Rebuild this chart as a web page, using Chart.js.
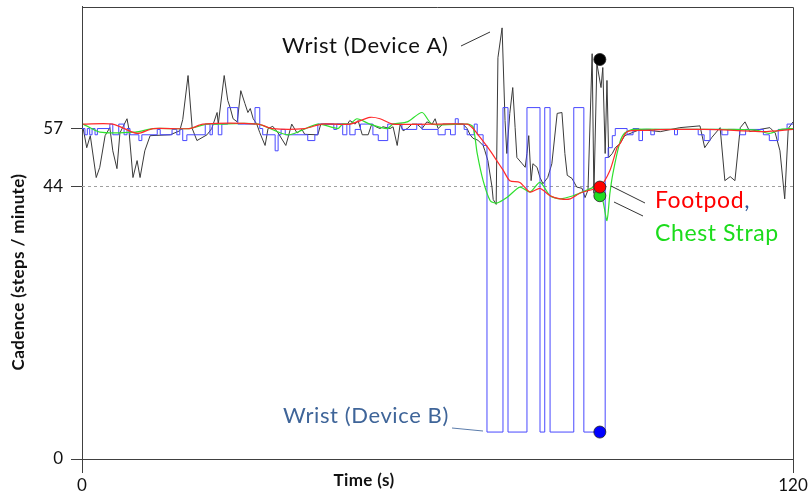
<!DOCTYPE html>
<html>
<head>
<meta charset="utf-8">
<script src="https://cdn.jsdelivr.net/npm/chart.js@4.4.0/dist/chart.umd.min.js"></script>
<style>
  html, body { margin: 0; padding: 0; background: #fff; }
  #wrap { width: 811px; height: 495px; }
</style>
</head>
<body>
<div id="wrap"><canvas id="cadence" width="811" height="495"></canvas></div>
<script>
// Wrist (Device A) – time (s) and cadence
const timeA = [0.2, 0.8, 1.4, 2.4, 3.0, 3.9, 4.7, 5.2, 5.9, 6.4, 7.6, 7.9, 8.6, 9.3, 9.8, 10.6, 11.5, 14.9, 16.5, 17.0,
  17.9, 18.6, 19.4, 21.1, 21.9, 22.8, 23.0, 24.0, 24.6, 25.0, 25.5, 26.2, 26.8, 27.5, 28.0, 28.4, 28.9, 29.5, 30.0, 30.9,
  31.4, 32.2, 33.1, 34.4, 35.4, 36.3, 37.1, 37.6, 39.8, 40.3, 44.8, 45.2, 46.1, 46.6, 47.3, 48.3, 48.9, 49.6, 50.3, 50.8,
  52.0, 52.5, 53.2, 53.7, 54.2, 54.9, 55.7, 56.5, 57.4, 58.2, 59.1, 59.6, 60.1, 60.9, 64.3, 65.0, 65.5, 66.0, 66.8, 67.7,
  68.0, 68.5, 69.2, 69.4, 69.9, 70.2, 70.9, 71.4, 71.7, 72.2, 72.7, 73.1, 73.4, 74.3, 74.8, 75.1, 75.4, 75.8, 76.1, 76.8,
  77.3, 77.8, 78.6, 79.3, 80.2, 81.0, 81.5, 81.9, 82.7, 83.5, 84.4, 84.9, 85.4, 86.1, 86.4, 86.9, 87.6, 87.9, 88.3, 88.6,
  88.9, 89.5, 90.0, 90.8, 91.6, 94.2, 97.6, 100.9, 104.3, 105.1, 106.3, 107.7, 108.5, 109.4, 110.2, 111.1, 111.9, 112.7, 114.4, 116.1,
  117.0, 117.8, 118.6, 119.2, 120.0];
const wristA = [57, 52.7, 55.4, 46, 48.3, 55.4, 57.2, 52, 48, 56, 59.2, 57, 46, 49.8, 46, 52, 55.4, 55.6, 56.5, 59,
  68.9, 57, 54.3, 55.6, 57, 60.6, 58, 68.9, 63.3, 61.7, 59.2, 58.5, 65.5, 62.6, 60.6, 61.5, 59.2, 58, 56.1, 53.2,
  57, 57.5, 56, 53.2, 58, 56, 56.8, 55.7, 55.6, 58, 58, 58.8, 58, 58.8, 55.6, 55.6, 58, 57.4, 57, 57.4,
  57, 57.4, 53.2, 58, 56.5, 57, 58, 58, 57, 58.5, 58, 59.2, 57, 58, 58, 57, 55.6, 54.8, 54.4, 53.2,
  52, 49.8, 43.9, 41.9, 41.1, 72.9, 79.6, 58.8, 51.4, 60.4, 66.2, 57.2, 50.5, 49.1, 48.3, 51.4, 55.4, 45.3, 49.1, 48.3,
  46, 44.6, 46, 49.1, 60.4, 60.6, 51.4, 46.5, 45.8, 43.9, 43.7, 42.2, 43.4, 73.8, 42.9, 71.6, 66.2, 70.7, 51.4, 67.8,
  50.5, 51.4, 52.7, 53.6, 55.4, 56.8, 56.3, 57.2, 57.6, 52.7, 55, 57.2, 45.3, 46.2, 45.3, 57.2, 58.5, 56.3, 56.8, 57.2,
  56, 52, 42, 57, 58.5];

// Wrist (Device B) – step starts (s) and cadence
const timeB = [0, 0.5, 0.9, 1.3, 1.7, 2.2, 2.6, 4.7, 5.2, 6.2, 7.1, 7.6, 8.1, 9.6, 10.1, 12.7, 13.2, 15.2, 16.0, 16.5,
  17.0, 17.7, 20.8, 21.6, 22.0, 23.0, 23.6, 24.6, 26.3, 29.2, 30.0, 30.5, 32.6, 33.1, 33.6, 34.3, 38.1, 39.3, 39.8, 42.5,
  43.0, 44.0, 44.7, 45.2, 46.1, 47.0, 49.1, 50.0, 51.6, 54.0, 56.5, 57.4, 60.1, 61.3, 62.2, 63.0, 63.5, 64.5, 65.0, 66.2,
  66.7, 67.7, 68.35, 71.05, 71.9, 75.1, 77.3, 78.1, 79.0, 83.0, 84.7, 88.3, 88.8, 89.5, 90.0, 92.0, 93.0, 94.0, 94.6, 96.0,
  96.6, 100.0, 100.5, 104.0, 105.0, 106.0, 108.0, 109.0, 111.0, 112.0, 115.0, 116.0, 117.5, 119.0, 120.0];
const wristB = [57, 55.6, 57, 55.6, 57, 55.6, 57, 58, 55.6, 58, 55.6, 57, 55.6, 54.3, 55.6, 56.8, 55.6, 56.8, 55.6, 56.8,
  54.3, 55.6, 58, 55.6, 58, 55.6, 58, 61.7, 58, 61.7, 57, 55.6, 52, 55.6, 56.8, 55.6, 54.3, 55.6, 58, 56.8,
  58, 55.6, 58, 55.6, 56.8, 58, 55.6, 54.3, 58, 56.8, 58, 56.8, 55.6, 56.8, 55.6, 59.2, 58, 56.8, 55.6, 58,
  55.6, 53.2, 4.35, 61.7, 4.35, 61.7, 4.35, 61.7, 4.35, 61.7, 4.35, 50.5, 52.7, 55.4, 57, 55.6, 57, 54.3, 56.8, 55.6,
  56.8, 55.6, 56.8, 55.6, 54.3, 56.8, 55.6, 56.8, 55.6, 56.8, 55.6, 54.3, 56.8, 58, 58];

// Footpod
const timeFoot = [0.2, 5.2, 9.3, 12.0, 18.2, 20.4, 29.7, 32.1, 37.6, 40.5, 45.2, 48.6, 50.3, 52.5, 65.0, 66.0, 67.2, 68.9, 70.0, 71.1,
  72.2, 73.9, 75.6, 77.3, 79.0, 80.7, 82.4, 84.0, 85.7, 87.4, 89.1, 90.3, 90.8, 92.0, 95.0, 100.0, 105.0, 110.0, 115.0, 120.0];
const footpod = [58, 58, 55.9, 57, 57, 58, 58, 57, 57, 58, 58, 59.5, 59.2, 58, 58, 57, 55, 52, 49.8, 47.6,
  45.3, 44.9, 43.1, 43.7, 42.5, 42, 42, 42.9, 43.4, 43.9, 47.6, 52.7, 53.6, 56.3, 56.6, 56.8, 56.8, 56.6, 56.3, 56.8];

// Chest strap
const timeChest = [0.2, 3.0, 9.0, 12.0, 18.0, 21.0, 22.4, 29.7, 34.8, 39.8, 43.2, 44.0, 45.2, 46.4, 48.6, 51.5, 52.5, 54.9, 57.4, 59.1,
  65.1, 66.0, 66.7, 67.7, 68.9, 70.0, 71.7, 73.9, 75.6, 77.3, 79.0, 80.7, 82.9, 85.2, 86.9, 87.9, 88.6, 89.1, 89.6, 90.8,
  91.6, 93.0, 100.0, 110.0, 114.0, 116.0, 118.0, 120.0];
const chestStrap = [58, 56.2, 56.2, 57, 57, 58, 58, 58, 55.6, 58, 57, 58, 58, 59.2, 58, 57, 58, 58.5, 60.6, 58,
  58, 57.4, 51.4, 45.3, 41.7, 41.3, 42.2, 43.9, 43.1, 44.9, 42.5, 42, 42.5, 43.4, 43.9, 41.7, 38.5, 42.9, 46.9, 54,
  56, 56.8, 56.8, 56.8, 56.6, 55.9, 56.8, 57];

// highlighted instant
const markTime = 87.4;
const markA = 72.5, markFoot = 43.9, markChest = 42.5, markB = 4.35;

const yTicks = [0, 44, 57];
const xTicks = [0, 120];
const refLine = 44;

// axis squeezed above 44 like the original figure
const CUT = 44, SQUEEZE = 0.719;
const warp = v => v <= CUT ? v : CUT + (v - CUT) * SQUEEZE;
const unwarp = w => w <= CUT ? w : CUT + (w - CUT) / SQUEEZE;

class CadenceScale extends Chart.LinearScale {
  getPixelForValue(v) { return super.getPixelForValue(warp(v)); }
  getValueForPixel(p) { return unwarp(super.getValueForPixel(p)); }
}
CadenceScale.id = 'cadence';
CadenceScale.defaults = Chart.LinearScale.defaults;
Chart.register(CadenceScale);

const pts = (xs, ys) => xs.map((t, i) => ({ x: t, y: ys[i] }));
const dot = (v, color) => ({
  data: [{ x: markTime, y: v }],
  showLine: false,
  pointRadius: 6,
  pointBackgroundColor: color,
  pointBorderColor: '#222',
  pointBorderWidth: 0.8,
  order: 0
});

const FONT = 'Lato, "Open Sans", sans-serif';

const decor = {
  id: 'decor',
  beforeDatasetsDraw(chart) {
    const { ctx, chartArea: a, scales: { y } } = chart;
    const py = Math.round(y.getPixelForValue(refLine)) + 0.5;
    ctx.save();
    ctx.strokeStyle = '#a0a0a0';
    ctx.lineWidth = 1;
    ctx.setLineDash([3, 3]);
    ctx.beginPath();
    ctx.moveTo(a.left, py);
    ctx.lineTo(a.right, py);
    ctx.stroke();
    ctx.restore();
  },
  afterDraw(chart) {
    const { ctx, chartArea: a } = chart;
    ctx.save();
    // frame top / right
    ctx.strokeStyle = '#404040';
    ctx.lineWidth = 1;
    ctx.beginPath();
    ctx.moveTo(a.left, Math.round(a.top) + 0.5);
    ctx.lineTo(Math.round(a.right) + 0.5, Math.round(a.top) + 0.5);
    ctx.lineTo(Math.round(a.right) + 0.5, a.bottom);
    ctx.stroke();

    // axis titles
    ctx.fillStyle = '#111';
    ctx.font = 'bold 17px ' + FONT;
    ctx.letterSpacing = '0.4px';
    ctx.textAlign = 'center';
    ctx.textBaseline = 'middle';
    ctx.fillText('Time (s)', 364, 481);
    ctx.save();
    ctx.translate(19, 272);
    ctx.rotate(-Math.PI / 2);
    ctx.fillText('Cadence (steps / minute)', 0, 0);
    ctx.restore();

    // labels
    ctx.textAlign = 'left';
    ctx.letterSpacing = '0.6px';
    ctx.font = '22px ' + FONT;
    ctx.fillStyle = '#111';
    ctx.fillText('Wrist (Device A)', 282, 46);
    ctx.fillStyle = '#3f6599';
    ctx.fillText('Wrist (Device B)', 283, 416);
    ctx.font = '23px ' + FONT;
    ctx.fillStyle = '#ff0000';
    ctx.fillText('Footpod', 655, 201);
    const w = ctx.measureText('Footpod').width;
    ctx.fillStyle = '#2f5597';
    ctx.fillText(',', 655 + w, 201);
    ctx.fillStyle = '#1bdc1b';
    ctx.fillText('Chest Strap', 655, 234);

    // leader lines
    ctx.lineWidth = 1;
    ctx.strokeStyle = '#333';
    ctx.beginPath();
    ctx.moveTo(461, 46); ctx.lineTo(490, 32);
    ctx.moveTo(611, 186); ctx.lineTo(645, 203);
    ctx.moveTo(614, 202); ctx.lineTo(643, 216);
    ctx.stroke();
    ctx.strokeStyle = '#5b7cab';
    ctx.beginPath();
    ctx.moveTo(452, 428); ctx.lineTo(483, 431);
    ctx.stroke();
    ctx.restore();
  }
};

new Chart(document.getElementById('cadence'), {
  type: 'line',
  data: {
    datasets: [
      dot(markA, '#000000'),
      dot(markFoot, '#ff0000'),
      dot(markChest, '#22dd22'),
      dot(markB, '#0000ff'),
      {
        label: 'Footpod',
        data: pts(timeFoot, footpod),
        borderColor: '#ff2a2a',
        borderWidth: 1.2,
        pointRadius: 0,
        tension: 0.25,
        order: 1
      },
      {
        label: 'Chest Strap',
        data: pts(timeChest, chestStrap),
        borderColor: '#2ee02e',
        borderWidth: 1.2,
        pointRadius: 0,
        tension: 0.25,
        order: 2
      },
      {
        label: 'Wrist (Device B)',
        data: pts(timeB, wristB),
        borderColor: '#4848ff',
        borderWidth: 1,
        pointRadius: 0,
        stepped: true,
        order: 3
      },
      {
        label: 'Wrist (Device A)',
        data: pts(timeA, wristA),
        borderColor: '#3a3a3a',
        borderWidth: 1,
        pointRadius: 0,
        tension: 0,
        order: 4
      }
    ]
  },
  options: {
    responsive: false,
    animation: false,
    layout: { padding: { top: 6, right: 18, left: 0, bottom: 0 } },
    plugins: {
      legend: { display: false },
      tooltip: { enabled: false }
    },
    scales: {
      x: {
        type: 'linear',
        min: 0,
        max: 120,
        afterBuildTicks: s => { s.ticks = xTicks.map(v => ({ value: v })); },
        afterFit: s => { s.height = 36; },
        grid: { drawOnChartArea: false, tickLength: 14, color: '#404040' },
        border: { color: '#404040' },
        ticks: { color: '#111', font: { family: FONT, size: 17 }, padding: 2, maxRotation: 0 }
      },
      y: {
        type: 'cadence',
        min: 0,
        max: 73,
        bounds: 'data',
        afterBuildTicks: s => { s.ticks = yTicks.map(v => ({ value: v })); },
        afterFit: s => { s.width = 82; s.paddingTop = 0; s.paddingBottom = 0; },
        grid: { drawOnChartArea: false, tickLength: 11, color: '#404040' },
        border: { color: '#404040' },
        ticks: { color: '#111', font: { family: FONT, size: 17 }, padding: 8 }
      }
    }
  },
  plugins: [decor]
});
</script>
</body>
</html>
